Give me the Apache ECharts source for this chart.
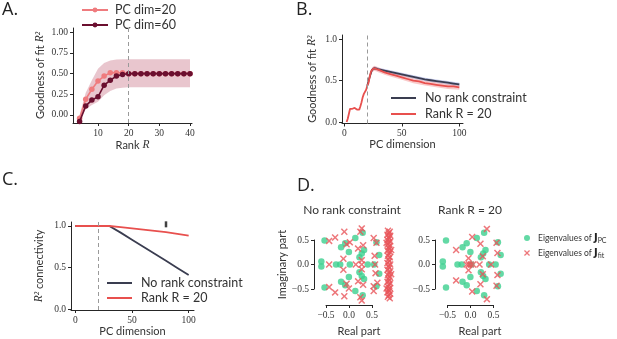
<!DOCTYPE html>
<html>
<head>
<meta charset="utf-8">
<script src="https://cdn.jsdelivr.net/npm/echarts@6/dist/echarts.min.js"></script>
<style>
html, body { margin: 0; padding: 0; background: #fff; }
#chart { width: 617px; height: 339px; }
</style>
</head>
<body>
<div id="chart"></div>
<script>
// A. goodness of fit vs rank
const rankX = [4, 6, 8, 10, 12, 14, 16, 18, 20, 22, 24, 26, 28, 30, 32, 34, 36, 38, 40];
const dim20 = [-0.04, 0.19, 0.31, 0.41, 0.47, 0.51, 0.51, 0.51, 0.50, 0.50, 0.50, 0.50, 0.50, 0.50, 0.50, 0.50, 0.50, 0.50, 0.50];
const dim60 = [-0.08, 0.11, 0.18, 0.22, 0.36, 0.42, 0.47, 0.49, 0.50, 0.50, 0.50, 0.50, 0.50, 0.50, 0.50, 0.50, 0.50, 0.50, 0.50];
const bandAX = [4, 6, 8, 10, 12, 14, 16, 18, 20, 30, 40];
const bandALo = [-0.06, 0.07, 0.12, 0.16, 0.24, 0.29, 0.32, 0.33, 0.335, 0.335, 0.335];
const bandAHi = [0.0, 0.27, 0.42, 0.56, 0.63, 0.66, 0.67, 0.675, 0.675, 0.675, 0.675];

// B. goodness of fit vs PC dimension
const bX = [2, 3, 4, 5, 6, 7, 8, 9, 10, 11, 12, 13, 14, 15, 16, 17, 18, 19, 20, 21, 22, 23, 24, 25, 26, 28, 30,
  35, 40, 45, 50, 55, 60, 65, 70, 75, 80, 85, 90, 95, 100];
const bRank = [0.00, 0.04, 0.10, 0.16, 0.17, 0.16, 0.17, 0.17, 0.16, 0.15, 0.15, 0.15, 0.19, 0.24, 0.30, 0.34, 0.36, 0.39, 0.44, 0.47, 0.54, 0.60, 0.63, 0.65, 0.65, 0.64, 0.63,
  0.60, 0.58, 0.56, 0.54, 0.52, 0.50, 0.49, 0.47, 0.46, 0.45, 0.44, 0.43, 0.43, 0.42];
const bFreeX = [20, 22, 24, 26, 28, 30, 35, 40, 45, 50, 55, 60, 65, 70, 75, 80, 85, 90, 95, 100];
const bFree = [0.44, 0.54, 0.63, 0.65, 0.645, 0.635, 0.62, 0.605, 0.59, 0.575, 0.56, 0.545, 0.53, 0.515, 0.505, 0.495, 0.485, 0.475, 0.465, 0.455];
const bandBX = [20, 22, 24, 26, 28, 30, 35, 40, 50, 60, 70, 80, 90, 100];
const bandRankLo = [0.42, 0.51, 0.60, 0.62, 0.61, 0.60, 0.57, 0.55, 0.51, 0.47, 0.44, 0.42, 0.40, 0.39];
const bandRankHi = [0.46, 0.57, 0.66, 0.68, 0.67, 0.66, 0.63, 0.61, 0.57, 0.53, 0.50, 0.48, 0.46, 0.45];
const bandFreeLo = [0.42, 0.52, 0.61, 0.63, 0.625, 0.615, 0.60, 0.585, 0.555, 0.525, 0.495, 0.475, 0.455, 0.435];
const bandFreeHi = [0.46, 0.56, 0.65, 0.67, 0.665, 0.655, 0.64, 0.625, 0.595, 0.565, 0.535, 0.515, 0.495, 0.475];

// C. connectivity R^2
const cX = [0, 10, 20, 30, 40, 50, 60, 70, 80, 90, 100];
const cFree = [1.0, 1.0, 1.0, 1.0, 0.92, 0.835, 0.75, 0.665, 0.58, 0.495, 0.41];
const cRank = [1.0, 1.0, 1.0, 1.0, 0.985, 0.97, 0.955, 0.94, 0.925, 0.905, 0.885];
const cTick = [[80, 1.02]];

const cutDim = 20;

// D. eigenvalues [real, imag]
const eigPC = [
  [-0.53, 0.50], [-0.53, -0.48], [-0.60, 0.06], [-0.60, -0.04], [-0.28, 0.00], [-0.19, 0.00],
  [-0.17, 0.36], [-0.17, -0.36], [-0.08, 0.44], [-0.08, -0.43], [0.00, 0.26], [0.00, -0.26],
  [0.02, 0.00], [0.14, 0.55], [0.14, -0.55], [0.23, 0.15], [0.23, -0.16], [0.28, 0.23], [0.28, -0.24],
  [0.30, 0.66], [0.30, -0.64], [0.33, 0.30], [0.33, -0.30], [0.41, 0.00], [0.55, 0.00],
  [0.60, 0.46], [0.60, -0.45], [0.66, 0.20], [0.66, -0.19]
];
const eigFitFree = [
  [-0.43, 0.49], [-0.30, 0.56], [-0.43, -0.47], [-0.30, -0.58], [-0.43, 0.00],
  [-0.10, 0.68], [-0.10, -0.66], [-0.05, 0.42], [0.02, 0.46], [-0.05, -0.40], [0.00, -0.50],
  [-0.12, 0.12], [-0.12, -0.11], [0.28, 0.75], [0.25, 0.68], [0.28, -0.75], [0.25, -0.68],
  [0.20, 0.33], [0.20, -0.35], [0.31, 0.40], [0.31, -0.42], [0.28, 0.09], [0.28, -0.10],
  [0.15, 0.00], [0.28, 0.00], [0.54, 0.55], [0.60, 0.45], [0.56, 0.18], [0.58, -0.18],
  [0.54, -0.45], [0.62, -0.38], [0.54, -0.55], [0.57, 0.00],
  [0.85, 0.70], [0.89, 0.68], [0.87, 0.65], [0.84, 0.62], [0.90, 0.60], [0.86, 0.57], [0.88, 0.54],
  [0.84, 0.51], [0.90, 0.48], [0.87, 0.45], [0.85, 0.42], [0.89, 0.39], [0.86, 0.36], [0.88, 0.32],
  [0.84, 0.29], [0.90, 0.26], [0.87, 0.22], [0.85, 0.18], [0.89, 0.15], [0.86, 0.11], [0.88, 0.07],
  [0.84, 0.03], [0.90, 0.00], [0.86, -0.03], [0.88, -0.07], [0.84, -0.11], [0.90, -0.14], [0.87, -0.18],
  [0.85, -0.22], [0.89, -0.26], [0.86, -0.29], [0.88, -0.33], [0.84, -0.36], [0.90, -0.39], [0.87, -0.42],
  [0.85, -0.46], [0.89, -0.49], [0.86, -0.52], [0.88, -0.55], [0.84, -0.58], [0.90, -0.61], [0.87, -0.64],
  [0.85, -0.67], [0.89, -0.70], [0.92, 0.30], [0.92, -0.20], [0.82, 0.45], [0.82, -0.50]
];
const eigFitRank = [
  [0.36, 0.74], [0.36, -0.72], [0.04, 0.57], [0.04, -0.56], [0.22, 0.43], [0.22, -0.41],
  [0.57, 0.45], [0.57, -0.44], [-0.31, 0.30], [-0.31, -0.33], [-0.04, 0.13], [-0.04, -0.12],
  [0.27, 0.17], [0.27, -0.20], [0.59, 0.24], [0.59, -0.22], [-0.08, 0.00], [-0.03, 0.00],
  [0.01, 0.00], [0.06, 0.00], [0.20, 0.00], [0.45, 0.00]
];

const darkLine = '#3a3d50';
const redLine = '#e8504e';
const green = '#3ccf8e';
const redX = '#e8555a';
const xPath = 'path://M0,1.5L1.5,0L5,3.5L8.5,0L10,1.5L6.5,5L10,8.5L8.5,10L5,6.5L1.5,10L0,8.5L3.5,5Z';

const pts = (xs, ys) => xs.map((x, i) => [x, ys[i]]);
const fmt = (v, d) => (v < 0 ? '\u2212' : '') + Math.abs(v).toFixed(d);

const nameRich = {
  t: { fontFamily: 'Lato', fontSize: 11, color: '#333' },
  r: { fontFamily: 'Liberation Serif', fontStyle: 'italic', fontSize: 11.5, color: '#333' }
};

function axis(grid, min, max, ticks, digits, extra) {
  return Object.assign({
    type: 'value', gridIndex: grid, min: min, max: max,
    splitLine: { show: false },
    axisLine: { show: true, onZero: false, lineStyle: { color: '#262626', width: 1 } },
    axisTick: { show: true, length: 3, customValues: ticks, lineStyle: { color: '#262626' } },
    axisLabel: {
      customValues: ticks, margin: 5, fontFamily: 'Liberation Serif', fontSize: 9.5, color: '#333',
      formatter: v => fmt(v, digits)
    },
    nameLocation: 'middle',
    nameTextStyle: { fontFamily: 'Lato', fontSize: 11, color: '#333', rich: nameRich }
  }, extra || {});
}

function hidden(grid, min, max, extra) {
  return Object.assign({ type: 'value', gridIndex: grid, min: min, max: max, show: false }, extra || {});
}

function band(xi, xs, lo, hi, color) {
  return {
    type: 'custom', xAxisIndex: xi, yAxisIndex: xi, silent: true, z: 1,
    data: xs.map((x, i) => [x, lo[i], hi[i]]),
    encode: { x: 0, y: [1, 2] },
    renderItem: function (params, api) {
      if (params.dataIndex !== 0) return null;
      const top = xs.map((x, i) => api.coord([x, hi[i]]));
      const bot = xs.map((x, i) => api.coord([x, lo[i]])).reverse();
      return { type: 'polygon', shape: { points: top.concat(bot) }, style: { fill: color } };
    }
  };
}

const cutLine = {
  silent: true, symbol: 'none', label: { show: false },
  lineStyle: { color: '#9a9a9a', type: [4, 3], width: 1 },
  data: [{ xAxis: cutDim }]
};

function lineSeries(name, xi, data, color, extra) {
  return Object.assign({
    name: name, type: 'line', xAxisIndex: xi, yAxisIndex: xi, data: data,
    symbol: 'none', lineStyle: { color: color, width: 1.8 }, itemStyle: { color: color }, z: 3
  }, extra || {});
}

// line-only legend (B and C): thin rect icon
function lineLegend(left, top, gap) {
  return {
    data: ['No rank constraint', 'Rank R = 20'], left: left, top: top, orient: 'vertical', padding: 0,
    icon: 'rect', itemWidth: 25, itemHeight: 2, itemGap: gap, selectedMode: false,
    textStyle: { fontFamily: 'Lato', fontSize: 12.5, lineHeight: 14, color: '#333', padding: [0, 0, 0, 4] }
  };
}

const letter = (t, left, top) => ({
  text: t, left: left, top: top, padding: 0,
  textStyle: { fontFamily: 'Open Sans', fontSize: 18, fontWeight: 'normal', color: '#222' }
});
const subTitle = (t, left, top) => ({
  text: t, left: left, top: top, padding: 0, textAlign: 'center',
  textStyle: { fontFamily: 'Lato', fontSize: 12, fontWeight: 'normal', color: '#333' }
});

const chart = echarts.init(document.getElementById('chart'), null, { renderer: 'canvas' });
chart.setOption({
  animation: false,
  backgroundColor: '#fff',
  title: [
    letter('A.', 2, 1), letter('B.', 296, 1), letter('C.', 2, 171), letter('D.', 297, 177),
    subTitle('No rank constraint', 352, 204), subTitle('Rank R = 20', 470, 204)
  ],
  grid: [
    { left: 73, top: 28, width: 119, height: 95, outerBoundsMode: 'none' },
    { left: 342, top: 35, width: 121, height: 88.5, outerBoundsMode: 'none' },
    { left: 71, top: 222, width: 123, height: 88, outerBoundsMode: 'none' },
    { left: 314, top: 226, width: 90, height: 77, outerBoundsMode: 'none' },
    { left: 435, top: 226, width: 90, height: 77, outerBoundsMode: 'none' },
    { left: 326, top: 226, width: 46, height: 79, outerBoundsMode: 'none' },
    { left: 314, top: 240, width: 46, height: 49, outerBoundsMode: 'none' },
    { left: 447.5, top: 226, width: 46, height: 79, outerBoundsMode: 'none' },
    { left: 435, top: 240, width: 46, height: 49, outerBoundsMode: 'none' }
  ],
  xAxis: [
    axis(0, 1.85, 40.65, [10, 20, 30, 40], 0, { name: '{t|Rank }{r|R}', nameGap: 16 }),
    axis(1, -2, 103.2, [0, 50, 100], 0, { name: 'PC dimension', nameGap: 15 }),
    axis(2, -3.8, 104.7, [0, 50, 100], 0, { name: 'PC dimension', nameGap: 16 }),
    axis(3, -0.76, 1.2, [], 1, {
      axisLine: { show: false }, axisTick: { show: false }, axisLabel: { show: false },
      name: 'Real part', nameGap: 23
    }),
    axis(4, -0.77, 1.19, [], 1, {
      axisLine: { show: false }, axisTick: { show: false }, axisLabel: { show: false },
      name: 'Real part', nameGap: 23
    }),
    axis(5, -0.5, 0.5, [-0.5, 0, 0.5], 1),
    hidden(6, 0, 1),
    axis(7, -0.5, 0.5, [-0.5, 0, 0.5], 1),
    hidden(8, 0, 1)
  ],
  yAxis: [
    axis(0, -0.097, 1.052, [0, 0.25, 0.5, 0.75, 1], 2, { name: '{t|Goodness of fit }{r|R²}', nameGap: 27 }),
    axis(1, -0.018, 1.052, [0, 0.5, 1], 1, { name: '{t|Goodness of fit }{r|R²}', nameGap: 24 }),
    axis(2, -0.012, 1.048, [0, 0.5, 1], 1, { name: '{r|R²}{t| connectivity}', nameGap: 26 }),
    hidden(3, -0.8, 0.8),
    hidden(4, -0.8, 0.8),
    hidden(5, 0, 1),
    axis(6, -0.5, 0.5, [-0.5, 0, 0.5], 1, { name: 'Imaginary part', nameGap: 24 }),
    hidden(7, 0, 1),
    axis(8, -0.5, 0.5, [-0.5, 0, 0.5], 1)
  ],
  legend: [
    {
      data: ['PC dim=20', 'PC dim=60'], left: 81, top: 3, orient: 'vertical', padding: 0,
      itemWidth: 26, itemHeight: 6, itemGap: 1, selectedMode: false,
      textStyle: { fontFamily: 'Lato', fontSize: 12.5, lineHeight: 14, color: '#333', padding: [0, 0, 0, 2] }
    },
    lineLegend(391, 91, 2),
    lineLegend(107, 276, 1),
    {
      data: ['pc', 'fit'], left: 524, top: 233, orient: 'vertical', padding: 0,
      itemWidth: 6, itemHeight: 6, itemGap: 4, selectedMode: false,
      formatter: n => n === 'pc' ? '{t|Eigenvalues of }{j|J}{b|PC}' : '{t|Eigenvalues of }{j|J}{b|fit}',
      textStyle: {
        color: '#333', padding: [0, 0, 0, 3],
        rich: {
          t: { fontFamily: 'Lato', fontSize: 8.5, color: '#333' },
          j: { fontFamily: 'DejaVu Sans', fontSize: 10, fontWeight: 'bold', color: '#222' },
          b: { fontFamily: 'Lato', fontSize: 7, color: '#333', padding: [5, 0, 0, 0] }
        }
      }
    }
  ],
  series: [
    band(0, bandAX, bandALo, bandAHi, 'rgba(175,50,80,0.28)'),
    lineSeries('PC dim=20', 0, pts(rankX, dim20), '#ef7b7e', {
      symbol: 'circle', symbolSize: 5.5, lineStyle: { color: '#ef7b7e', width: 1.6 }, markLine: cutLine
    }),
    lineSeries('PC dim=60', 0, pts(rankX, dim60), '#6b0f2f', {
      symbol: 'circle', symbolSize: 5.5, lineStyle: { color: '#6b0f2f', width: 1.6 }, z: 4
    }),

    band(1, bandBX, bandFreeLo, bandFreeHi, 'rgba(90,105,200,0.35)'),
    band(1, bandBX, bandRankLo, bandRankHi, 'rgba(235,80,80,0.3)'),
    lineSeries('No rank constraint', 1, pts(bFreeX, bFree), darkLine),
    lineSeries('Rank R = 20', 1, pts(bX, bRank), redLine, { z: 4, markLine: cutLine }),

    lineSeries('No rank constraint', 2, pts(cX, cFree), darkLine),
    lineSeries('Rank R = 20', 2, pts(cX, cRank), redLine, { z: 4, markLine: cutLine }),
    {
      type: 'scatter', xAxisIndex: 2, yAxisIndex: 2, data: cTick, symbol: 'rect',
      symbolSize: [2.5, 6], itemStyle: { color: '#111' }, silent: true
    },

    { name: 'pc', type: 'scatter', xAxisIndex: 3, yAxisIndex: 3, data: eigPC, symbol: 'circle', symbolSize: 6.5, itemStyle: { color: green } },
    { name: 'fit', type: 'scatter', xAxisIndex: 3, yAxisIndex: 3, data: eigFitFree, symbol: xPath, symbolSize: 7, itemStyle: { color: redX } },
    { name: 'pc', type: 'scatter', xAxisIndex: 4, yAxisIndex: 4, data: eigPC, symbol: 'circle', symbolSize: 6.5, itemStyle: { color: green } },
    { name: 'fit', type: 'scatter', xAxisIndex: 4, yAxisIndex: 4, data: eigFitRank, symbol: xPath, symbolSize: 7, itemStyle: { color: redX } }
  ]
});
</script>
</body>
</html>
